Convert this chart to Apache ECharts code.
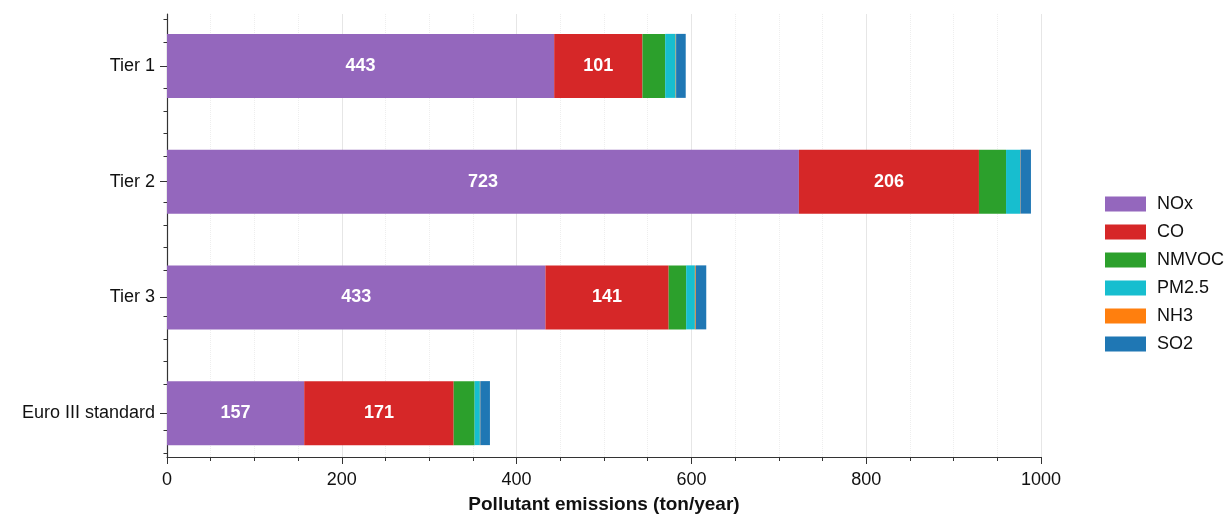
<!DOCTYPE html>
<html>
<head>
<meta charset="utf-8">
<script src="https://cdn.jsdelivr.net/npm/echarts@6/dist/echarts.min.js"></script>
<style>
  html, body { margin: 0; padding: 0; background: #fff; }
  #chart-container { width: 1229px; height: 519px; }
</style>
</head>
<body>
<div id="chart-container"></div>
<script>
var categories = ['Tier 1', 'Tier 2', 'Tier 3', 'Euro III standard'];
var noxData = [443, 723, 433, 157];
var coData = [101, 206, 141, 171];
var nmvocData = [26, 31, 20, 24];
var pm25Data = [12, 16, 10, 6];
var nh3Data = [0.5, 0.5, 1, 0.5];
var so2Data = [11, 12, 12, 11];
var yMinorTicks = [-0.4, -0.2, 0.2, 0.4, 0.6, 0.8, 1.2, 1.4, 1.6, 1.8,
    2.2, 2.4, 2.6, 2.8, 3.2, 3.4];

var dom = document.getElementById('chart-container');
var myChart = echarts.init(dom, null, { renderer: 'canvas' });

var font = 'Arial, "Liberation Sans", Helvetica, sans-serif';

function makeSeries(name, data, color, labelled) {
    return {
        name: name,
        type: 'bar',
        stack: 'total',
        xAxisIndex: 0,
        yAxisIndex: 0,
        barWidth: 64,
        itemStyle: { color: color },
        label: {
            show: labelled,
            position: 'inside',
            color: '#fff',
            fontWeight: 'bold',
            fontSize: 18,
            fontFamily: font
        },
        emphasis: { disabled: true },
        data: data
    };
}

var option = {
    animation: false,
    textStyle: { fontFamily: font },
    legend: {
        orient: 'vertical',
        left: 1100,
        top: 190,
        itemWidth: 41,
        itemHeight: 15,
        itemGap: 10,
        icon: 'rect',
        textStyle: { fontSize: 18, lineHeight: 18, color: '#111', fontFamily: font, padding: [0, 0, 0, 6] },
        data: ['NOx', 'CO', 'NMVOC', 'PM2.5', 'NH3', 'SO2']
    },
    grid: [
        { left: 167, right: 188, top: 8, height: 463, containLabel: false },
        { left: 167, right: 188, top: 14, height: 450, containLabel: false }
    ],
    xAxis: [
        { type: 'value', gridIndex: 0, min: 0, max: 1000, show: false },
        {
            type: 'value',
            gridIndex: 1,
            position: 'bottom',
            min: 0,
            max: 1000,
            interval: 200,
            name: 'Pollutant emissions (ton/year)',
            nameLocation: 'middle',
            nameGap: 38,
            nameTextStyle: { fontSize: 19, fontWeight: 'bold', color: '#111', fontFamily: font },
            axisLine: { show: true, onZero: false, lineStyle: { color: '#333', width: 1.2 } },
            axisTick: { show: true, length: 7, lineStyle: { color: '#333' } },
            minorTick: { show: true, splitNumber: 4, length: 4, lineStyle: { color: '#333' } },
            axisLabel: {
                fontSize: 18, color: '#111', margin: 14, fontFamily: font,
                formatter: function (v) { return String(v); }
            },
            splitLine: { show: true, lineStyle: { color: '#e6e6e6', width: 1 } },
            minorSplitLine: { show: true, lineStyle: { color: '#eeeeee', width: 1, type: 'dotted' } }
        }
    ],
    yAxis: [
        {
            type: 'category',
            gridIndex: 0,
            inverse: true,
            data: categories,
            axisLine: { show: false },
            axisTick: { show: true, alignWithLabel: true, length: 7, lineStyle: { color: '#333' } },
            axisLabel: { fontSize: 18, color: '#111', margin: 12, fontFamily: font },
            splitLine: { show: false }
        },
        {
            type: 'value',
            gridIndex: 1,
            position: 'left',
            inverse: true,
            min: -0.449,
            max: 3.437,
            axisLine: { show: true, onZero: false, lineStyle: { color: '#333', width: 1.2 } },
            axisTick: { show: true, length: 3.5, lineStyle: { color: '#333' }, customValues: yMinorTicks },
            axisLabel: { show: false },
            splitLine: { show: false }
        }
    ],
    series: [
        makeSeries('NOx', noxData, '#9467bd', true),
        makeSeries('CO', coData, '#d62728', true),
        makeSeries('NMVOC', nmvocData, '#2ca02c', false),
        makeSeries('PM2.5', pm25Data, '#17becf', false),
        makeSeries('NH3', nh3Data, '#ff7f0e', false),
        makeSeries('SO2', so2Data, '#1f77b4', false)
    ]
};

myChart.setOption(option);
window.addEventListener('resize', myChart.resize);
</script>
</body>
</html>
